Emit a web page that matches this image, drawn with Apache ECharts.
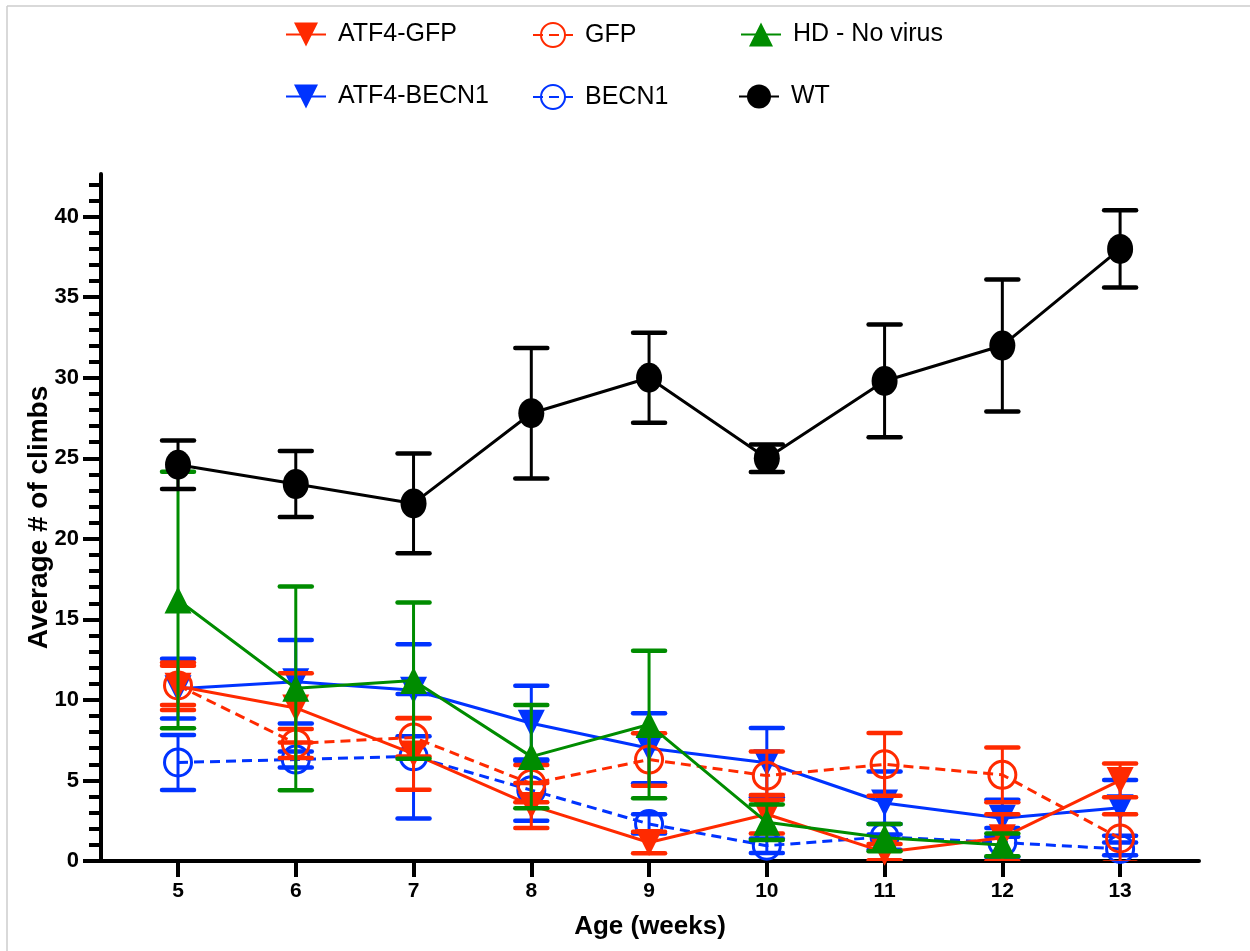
<!DOCTYPE html>
<html>
<head>
<meta charset="utf-8">
<script src="https://cdn.jsdelivr.net/npm/echarts@6/dist/echarts.min.js"></script>
<style>html,body{margin:0;padding:0;background:#fff;}#c{width:1250px;height:951px;}</style>
</head>
<body>
<div id="c"></div>
<script>
const weeks = [5, 6, 7, 8, 9, 10, 11, 12, 13];
const yTicks = [0, 5, 10, 15, 20, 25, 30, 35, 40];
const yMinorTicks = [0,1,2,3,4,5,6,7,8,9,10,11,12,13,14,15,16,17,18,19,20,21,22,23,24,25,26,27,28,29,30,31,32,33,34,35,36,37,38,39,40,41,42];

const atf4GfpMean = [10.85, 9.5, 6.65, 3.45, 1.15, 2.9, 0.55, 1.45, 5.0];
const atf4GfpErr  = [1.47, 2.15, 2.22, 1.4, 0.67, 1.2, 0.5, 1.45, 1.05];
const gfpMean     = [10.9, 7.3, 7.67, 4.8, 6.3, 5.3, 6.0, 5.35, 1.4];
const gfpErr      = [1.22, 0.9, 1.19, 1.16, 1.63, 1.5, 1.95, 1.7, 1.5];
const hdMean      = [16.2, 10.72, 11.2, 6.48, 8.47, 2.4, 1.45, 1.0, null];
const hdErr       = [7.96, 6.32, 4.85, 3.2, 4.58, 1.1, 0.85, 0.7, null];
const atf4BecnMean = [10.7, 11.13, 10.6, 8.55, 7.0, 6.1, 3.6, 2.65, 3.3];
const atf4BecnErr  = [1.86, 2.59, 2.85, 2.33, 2.17, 2.15, 1.95, 1.15, 1.73];
const becnMean    = [6.12, 6.3, 6.5, 4.4, 2.3, 0.95, 1.5, 1.15, 0.75];
const becnErr     = [1.71, 0.5, 3.86, 1.9, 0.6, 0.45, 0.8, 0.9, 0.4];
const wtMean      = [24.6, 23.4, 22.2, 27.8, 30.0, 25.0, 29.8, 32.0, 38.0];
const wtErr       = [1.5, 2.05, 3.1, 4.05, 2.8, 0.85, 3.5, 4.1, 2.4];

const RED = '#FF2A00', BLUE = '#0033FF', GREEN = '#008C00', BLACK = '#000000';
const FONT = 'Liberation Sans, Arial, sans-serif';

function pts(mean) { return weeks.map((w, i) => [w, mean[i]]); }
function errData(mean, err) {
  const out = [];
  weeks.forEach((w, i) => { if (mean[i] != null) out.push([w, mean[i], err[i]]); });
  return out;
}
function errRender(color, hw) {
  return function (params, api) {
    const x = api.value(0), m = api.value(1), e = api.value(2);
    const top = api.coord([x, m + e]);
    const bot = api.coord([x, m - e]);
    return {
      type: 'group',
      children: [
        { type: 'line', shape: { x1: top[0], y1: top[1], x2: bot[0], y2: bot[1] }, style: { stroke: color, lineWidth: 3 } },
        { type: 'line', shape: { x1: top[0] - hw, y1: top[1], x2: top[0] + hw, y2: top[1] }, style: { stroke: color, lineWidth: 4.5, lineCap: 'round' } },
        { type: 'line', shape: { x1: bot[0] - hw, y1: bot[1], x2: bot[0] + hw, y2: bot[1] }, style: { stroke: color, lineWidth: 4.5, lineCap: 'round' } }
      ]
    };
  };
}
function errSeries(id, mean, err, color, hw) {
  return { type: 'custom', name: id, renderItem: errRender(color, hw), data: errData(mean, err), clip: true, silent: true, encode: { x: 0, y: 1 } };
}

const groups = [
  { name: 'BECN1', mean: becnMean, err: becnErr, color: BLUE, symbol: 'circle', open: true, dashed: true, size: 27, rot: 0 },
  { name: 'ATF4-BECN1', mean: atf4BecnMean, err: atf4BecnErr, color: BLUE, symbol: 'triangle', open: false, dashed: false, size: 27, rot: 180 },
  { name: 'GFP', mean: gfpMean, err: gfpErr, color: RED, symbol: 'circle', open: true, dashed: true, size: 27, rot: 0 },
  { name: 'ATF4-GFP', mean: atf4GfpMean, err: atf4GfpErr, color: RED, symbol: 'triangle', open: false, dashed: false, size: 27, rot: 180 },
  { name: 'HD - No virus', mean: hdMean, err: hdErr, color: GREEN, symbol: 'triangle', open: false, dashed: false, size: 27, rot: 0 },
  { name: 'WT', mean: wtMean, err: wtErr, color: BLACK, symbol: 'circle', open: false, dashed: false, size: [26, 30], rot: 0 }
];

const series = [];
groups.forEach((g, k) => {
  series.push(Object.assign(errSeries('_err' + k, g.mean, g.err, g.color, 16), { z: 2 + k * 2 }));
  series.push({
    type: 'line', name: g.name, data: pts(g.mean), z: 3 + k * 2,
    symbol: g.symbol, symbolSize: g.size, symbolRotate: g.rot, showSymbol: true,
    connectNulls: false, animation: false,
    lineStyle: { color: g.color, width: 3, type: g.dashed ? [10, 6] : 'solid' },
    itemStyle: g.open ? { color: 'rgba(255,255,255,0)', borderColor: g.color, borderWidth: 3 } : { color: g.color, borderWidth: 0 }
  });
});

function legendAt(name, left, top) {
  return {
    data: [name], left: left, top: top, orient: 'horizontal',
    itemWidth: 40, itemHeight: 30, selectedMode: false,
    textStyle: { fontFamily: FONT, fontSize: 25, color: '#000', padding: [0, 0, 0, 7] }
  };
}

const option = {
  animation: false,
  backgroundColor: '#ffffff',
  legend: [
    legendAt('ATF4-GFP', 280, 17), legendAt('GFP', 527, 17), legendAt('HD - No virus', 735, 17),
    legendAt('ATF4-BECN1', 280, 79), legendAt('BECN1', 527, 79), legendAt('WT', 733, 79)
  ],
  grid: { left: 101, right: 51, top: 174, bottom: 90, containLabel: false },
  xAxis: {
    type: 'value', min: 4.346, max: 13.67,
    name: 'Age (weeks)', nameLocation: 'middle', nameGap: 53,
    nameTextStyle: { fontFamily: FONT, fontSize: 26, fontWeight: 'bold', color: '#000' },
    axisLine: { show: true, onZero: false, lineStyle: { color: '#000', width: 4 } },
    axisTick: { show: true, inside: false, length: 16, lineStyle: { color: '#000', width: 4 }, customValues: weeks },
    axisLabel: { show: true, margin: 20, fontFamily: FONT, fontSize: 21, fontWeight: 'bold', color: '#000', customValues: weeks },
    splitLine: { show: false }
  },
  yAxis: [
    {
      type: 'value', min: 0, max: 42.65,
      name: 'Average # of climbs', nameLocation: 'middle', nameGap: 48, nameRotate: 90, nameMoveOverlap: false,
      nameTextStyle: { fontFamily: FONT, fontSize: 28, fontWeight: 'bold', color: '#000' },
      axisLine: { show: true, onZero: false, lineStyle: { color: '#000', width: 4 } },
      axisTick: { show: true, inside: false, length: 18, lineStyle: { color: '#000', width: 4 }, customValues: yTicks },
      axisLabel: { show: true, margin: 22, fontFamily: FONT, fontSize: 22, fontWeight: 'bold', color: '#000', customValues: yTicks },
      splitLine: { show: false }
    },
    {
      type: 'value', min: 0, max: 42.65, position: 'left', offset: 0,
      axisLine: { show: false },
      axisTick: { show: true, inside: false, length: 12, lineStyle: { color: '#000', width: 4 }, customValues: yMinorTicks },
      axisLabel: { show: false },
      splitLine: { show: false }
    }
  ],
  graphic: [
    { type: 'line', shape: { x1: 7, y1: 6, x2: 1250, y2: 6 }, style: { stroke: '#cccccc', lineWidth: 1.5 }, silent: true },
    { type: 'line', shape: { x1: 7, y1: 6, x2: 7, y2: 951 }, style: { stroke: '#cccccc', lineWidth: 1.5 }, silent: true }
  ],
  series: series
};

const chart = echarts.init(document.getElementById('c'), null, { renderer: 'canvas' });
chart.setOption(option);
</script>
</body>
</html>
